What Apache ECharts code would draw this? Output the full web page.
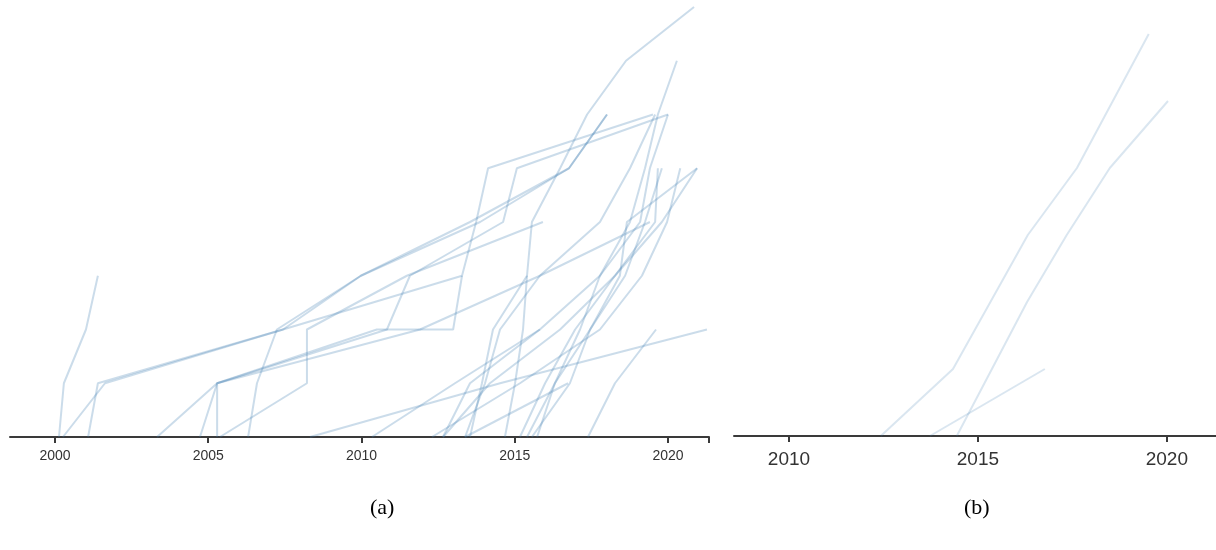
<!DOCTYPE html>
<html>
<head>
<meta charset="utf-8">
<script src="https://cdn.jsdelivr.net/npm/echarts@6/dist/echarts.min.js"></script>
<style>
html,body{margin:0;padding:0;background:#fff;}
#chart{width:1216px;height:550px;}
</style>
</head>
<body>
<div id="chart"></div>
<script>
// ---- Data: each line is a list of [year, level] points ----
const ticksA = [2000, 2005, 2010, 2015, 2020];
const ticksB = [2010, 2015, 2020];
const captions = ['(a)', '(b)'];

const linesA = [
  [[2000.13,0],[2000.29,1],[2001.01,2],[2001.40,3]],
  [[2000.26,0],[2001.63,1],[2007.44,2],[2013.28,3],[2013.74,4],[2014.13,5],[2019.51,6]],
  [[2001.08,0],[2001.40,1],[2007.44,2],[2009.98,3],[2013.87,4],[2016.77,5],[2018.01,6]],
  [[2003.33,0],[2005.29,1],[2010.83,2],[2011.58,3],[2014.62,4],[2015.07,5],[2020.00,6]],
  [[2004.73,0],[2005.29,1],[2010.50,2],[2012.99,2],[2013.28,3]],
  [[2005.29,0],[2005.29,1],[2011.91,2],[2015.82,3],[2019.41,4]],
  [[2006.30,0],[2006.59,1],[2007.24,2],[2009.98,3],[2013.54,4],[2016.77,5],[2018.01,6]],
  [[2005.38,0],[2008.22,1],[2008.22,2],[2011.48,3],[2015.92,4]],
  [[2008.32,0],[2014.52,1],[2021.27,2]],
  [[2010.34,0],[2013.05,1],[2015.82,2]],
  [[2013.38,0],[2016.74,1]],
  [[2012.30,0],[2015.17,1],[2017.78,2],[2019.15,3],[2019.97,4],[2020.40,5]],
  [[2012.66,0],[2014.19,1],[2016.48,2],[2018.27,3],[2019.80,4],[2020.95,5]],
  [[2013.54,0],[2013.93,1],[2014.29,2],[2015.40,3],[2015.56,4],[2016.48,5],[2017.36,6],[2018.63,7],[2020.85,8]],
  [[2013.38,0],[2014.03,1],[2014.52,2],[2015.82,3],[2017.78,4],[2018.76,5],[2019.58,6]],
  [[2014.68,0],[2015.01,1],[2015.27,2],[2015.40,3]],
  [[2015.17,0],[2015.99,1],[2016.97,2],[2018.27,3],[2019.58,4],[2019.67,5]],
  [[2015.40,0],[2016.31,1],[2017.46,2],[2018.60,3],[2019.25,4],[2019.80,5]],
  [[2015.56,0],[2016.80,1],[2017.46,2],[2018.43,3],[2018.66,4],[2020.95,5]],
  [[2015.73,0],[2016.31,1],[2017.13,2],[2017.78,3],[2018.76,4],[2019.25,5],[2019.67,6],[2020.29,7]],
  [[2017.39,0],[2018.27,1],[2019.61,2]],
  [[2012.66,0],[2013.54,1],[2015.82,2],[2017.78,3],[2019.09,4],[2019.41,5],[2020.00,6]]
];

const linesB = [
  [[2012.43,0],[2014.34,1],[2016.32,3],[2017.62,4],[2019.52,6]],
  [[2014.44,0],[2016.30,2],[2017.35,3],[2018.49,4],[2020.03,5]],
  [[2013.73,0],[2016.77,1]]
];

// ---- Chart ----
const chart = echarts.init(document.getElementById('chart'), null, {renderer: 'canvas'});

const axisCommon = {
  type: 'value',
  axisLine: {show: true, onZero: false, lineStyle: {color: '#3a3a3a', width: 2}},
  splitLine: {show: false},
  axisTick: {show: true, length: 6, inside: false, lineStyle: {color: '#3a3a3a', width: 2}},
};

const series = [];
linesA.forEach((pts) => series.push({
  type: 'line', xAxisIndex: 0, yAxisIndex: 0, data: pts,
  showSymbol: false, symbol: 'none', silent: true, animation: false,
  lineStyle: {color: 'rgba(70,130,180,0.28)', width: 2}
}));
linesB.forEach((pts) => series.push({
  type: 'line', xAxisIndex: 1, yAxisIndex: 1, data: pts,
  showSymbol: false, symbol: 'none', silent: true, animation: false,
  lineStyle: {color: 'rgba(70,130,180,0.2)', width: 2}
}));

chart.setOption({
  backgroundColor: '#fff',
  animation: false,
  grid: [
    {left: 10, top: 7, width: 699, height: 430},
    {left: 734, top: 34, width: 482, height: 402}
  ],
  xAxis: [
    Object.assign({}, axisCommon, {
      gridIndex: 0, min: 1998.532, max: 2021.338,
      axisTick: Object.assign({}, axisCommon.axisTick, {customValues: ticksA.concat([2021.338])}),
      axisLabel: {customValues: ticksA, color: '#333', fontSize: 14, margin: 12,
        fontFamily: 'Liberation Sans, Arial, sans-serif', formatter: v => String(v)}
    }),
    Object.assign({}, axisCommon, {
      gridIndex: 1, min: 2008.545, max: 2021.30,
      axisTick: Object.assign({}, axisCommon.axisTick, {customValues: ticksB}),
      axisLabel: {customValues: ticksB, color: '#333', fontSize: 19, margin: 14,
        fontFamily: 'Liberation Sans, Arial, sans-serif', formatter: v => String(v)}
    })
  ],
  yAxis: [
    {type: 'value', gridIndex: 0, min: 0, max: 8, show: false},
    {type: 'value', gridIndex: 1, min: 0, max: 6, show: false}
  ],
  graphic: [
    {type: 'text', left: 370, top: 497, style: {text: captions[0], font: '22px "Liberation Serif", "Times New Roman", serif', fill: '#000'}},
    {type: 'text', left: 964, top: 497, style: {text: captions[1], font: '22px "Liberation Serif", "Times New Roman", serif', fill: '#000'}}
  ],
  series: series
});
</script>
</body>
</html>
